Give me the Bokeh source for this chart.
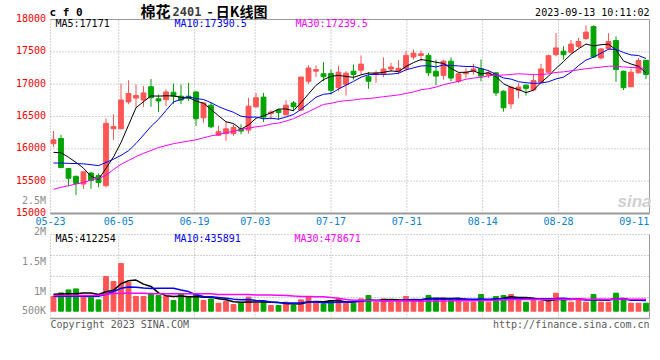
from bokeh.plotting import figure
from bokeh.models import Range1d, Label, LabelSet, ColumnDataSource
from bokeh.core.properties import value
from bokeh.embed import file_html
from bokeh.resources import INLINE

# ---------------- data ----------------
opens = [16080, 16160, 15695, 15575, 15455, 15625, 15585, 15430, 16310, 16310,
         16725, 16785, 16755, 16960, 16775, 16760, 16875, 16815, 16815, 16880,
         16480, 16675, 16210, 16235, 16235, 16310, 16290, 16650, 16800, 16545,
         16600, 16525, 16710, 16600, 17045, 17200, 17160, 17165, 16945, 16995,
         17200, 17215, 17115, 17150, 17160, 17235, 17200, 17240, 17420, 17445,
         17445, 17200, 17135, 17355, 17045, 17160, 17200, 17240, 17140, 17175,
         16890, 16695, 16905, 16985, 16910, 17030, 17185, 17455, 17510, 17495,
         17585, 17705, 17890, 17405, 17550, 17675, 17200, 16960, 17175, 17370]
highs = [16275, 16215, 15700, 15585, 15645, 15645, 15620, 16470, 16535, 17010,
         17060, 16995, 16970, 17080, 16840, 16920, 17010, 16995, 17020, 16890,
         16710, 16710, 16355, 16430, 16380, 16380, 16790, 16865, 16865, 16595,
         16620, 16750, 16740, 17110, 17290, 17290, 17340, 17225, 17285, 17200,
         17305, 17445, 17190, 17210, 17415, 17330, 17370, 17510, 17535, 17520,
         17480, 17380, 17380, 17415, 17175, 17250, 17315, 17380, 17210, 17185,
         16905, 16970, 17020, 16995, 17150, 17315, 17455, 17790, 17585, 17685,
         17715, 17910, 17910, 17560, 17790, 17740, 17210, 17240, 17405, 17370]
lows = [16030, 15700, 15420, 15285, 15380, 15380, 15405, 15405, 16140, 16305,
        16690, 16635, 16650, 16650, 16570, 16660, 16690, 16690, 16740, 16355,
        16405, 16320, 16200, 16125, 16200, 16225, 16235, 16635, 16415, 16455,
        16445, 16525, 16585, 16585, 17005, 17110, 17045, 16840, 16890, 16825,
        17070, 17150, 16930, 17020, 17110, 17190, 17150, 17200, 17380, 17355,
        17125, 16980, 17070, 17045, 17020, 17095, 17150, 17045, 17095, 16815,
        16575, 16620, 16780, 16825, 16890, 17020, 17175, 17430, 17380, 17480,
        17560, 17685, 17405, 17380, 17535, 17035, 16910, 16955, 17165, 17080]
closes = [16140, 15710, 15545, 15465, 15645, 15510, 15480, 16395, 16345, 16755,
          16855, 16825, 16865, 16790, 16740, 16880, 16815, 16755, 16780, 16465,
          16710, 16340, 16265, 16310, 16330, 16275, 16660, 16790, 16490, 16570,
          16560, 16675, 16650, 17110, 17250, 17225, 17115, 16905, 17185, 17170,
          17150, 17310, 17045, 17175, 17235, 17265, 17245, 17445, 17480, 17470,
          17175, 17125, 17355, 17095, 17160, 17185, 17235, 17125, 17175, 16865,
          16635, 16955, 16955, 16935, 17055, 17235, 17440, 17560, 17455, 17620,
          17660, 17805, 17420, 17545, 17660, 17225, 16945, 17185, 17365, 17150]
volumes = [587000, 733000, 853000, 893000, 587000, 560000, 453000, 1388000, 1188000, 1908000,
           1148000, 588000, 588000, 720000, 627000, 587000, 427000, 693000, 560000, 667000,
           427000, 493000, 320000, 387000, 267000, 320000, 560000, 320000, 387000, 227000,
           227000, 360000, 227000, 453000, 587000, 320000, 293000, 427000, 493000, 320000,
           320000, 493000, 627000, 360000, 493000, 360000, 427000, 587000, 467000, 427000,
           627000, 493000, 533000, 453000, 493000, 360000, 360000, 667000, 360000, 587000,
           627000, 667000, 493000, 360000, 427000, 400000, 427000, 720000, 427000, 360000,
           493000, 360000, 667000, 360000, 360000, 720000, 453000, 320000, 320000, 320000]

# moving-average values before enough in-window history exists
ma5_head = [15945, 15940, 15870, 15790]
ma10_head = [15780, 15780, 15775, 15772, 15768, 15755, 15740, 15790, 15840]
ma30_head = [15375, 15405, 15430, 15455, 15480, 15515, 15545, 15590, 15680, 15760,
             15820, 15880, 15930, 15975, 16020, 16050, 16080, 16100, 16120, 16140,
             16170, 16200, 16220, 16250, 16270, 16300, 16320, 16340, 16355]
vma5_head = [680000, 690000, 700000, 700000]
vma10_head = [600000, 600000, 600000, 600000, 600000, 600000, 600000, 680000, 790000]
vma30_head = [627000, 627000, 627000, 627000, 627000, 627000, 640000, 680000, 710000, 720000,
              720000, 720000, 720000, 695000, 695000, 695000, 695000, 695000, 695000, 695000,
              695000, 695000, 670000, 670000, 670000, 670000, 670000, 650000, 650000]

tick_index = [0, 9, 19, 27, 37, 47, 57, 67, 77]
tick_labels = ["05-23", "06-05", "06-19", "07-03", "07-17", "07-31", "08-14", "08-28", "09-11"]
price_ticks = [15000, 15500, 16000, 16500, 17000, 17500, 18000]
vol_tick_labels = ["2M", "1.5M", "1M", "500K"]

title_name = "棉花"
title_contract = "2401"
title_rest = "- 日K线图"
code_text = "c f 0"
time_text = "2023-09-13 10:11:02"
price_legend = ["MA5:17171", "MA10:17390.5", "MA30:17239.5"]
vol_legend = ["MA5:412254", "MA10:435891", "MA30:478671"]
stray_label = "2.5M"
copyright_text = "Copyright 2023 SINA.COM"
url_text = "http://finance.sina.com.cn"
watermark_text = "sina"

# ---------------- derived series ----------------
n = len(closes)
xs = list(range(n))


def moving_average(values, window, head):
    out = list(head)
    for i in range(len(head), len(values)):
        out.append(sum(values[i - window + 1:i + 1]) / window)
    return out


ma5 = moving_average(closes, 5, ma5_head)
ma10 = moving_average(closes, 10, ma10_head)
ma30 = moving_average(closes, 30, ma30_head)
vma5 = moving_average(volumes, 5, vma5_head)
vma10 = moving_average(volumes, 10, vma10_head)
vma30 = moving_average(volumes, 30, vma30_head)

UP = "#ff5555"
DOWN = "#00a400"
colors = [UP if c >= o else DOWN for o, c in zip(opens, closes)]
tops = [max(o, c) for o, c in zip(opens, closes)]
bottoms = [min(o, c) for o, c in zip(opens, closes)]

# ---------------- geometry (canvas pixels) ----------------
W, H = 652, 332
MONO = "DejaVu Sans Mono"
CJK = "Noto Sans CJK SC"
GRID = "#a6a6a6"
BORDER = "#9a9a9a"
MA_COLORS = ["#000000", "#0000ff", "#ff00ff"]

CANDLE0_PX, STEP_PX = 53.0, 7.5
PANEL_LEFT_PX, PANEL_RIGHT_PX = 50.0, 649.0
PRICE_TOP_PX, PRICE_BOT_PX = 19.0, 213.0
VOL_TOP_PX, VOL_BOT_PX, VOL_ZERO_PX, VOL_PER_PX = 234.0, 318.0, 310.7, 40000.0

P_MIN, P_MAX = price_ticks[0], price_ticks[-1]
k = (PRICE_BOT_PX - PRICE_TOP_PX) / (P_MAX - P_MIN)

x_range = Range1d(-CANDLE0_PX / STEP_PX, (W - CANDLE0_PX) / STEP_PX)
X_START = (PANEL_LEFT_PX - CANDLE0_PX) / STEP_PX
X_END = (PANEL_RIGHT_PX - CANDLE0_PX) / STEP_PX
y_range = Range1d(P_MIN - (H - PRICE_BOT_PX) / k, P_MAX + PRICE_TOP_PX / k)
vol_range = Range1d(-(H - VOL_ZERO_PX) * VOL_PER_PX, VOL_ZERO_PX * VOL_PER_PX)
V_TOP = (VOL_ZERO_PX - VOL_TOP_PX) * VOL_PER_PX
V_BOT = (VOL_ZERO_PX - VOL_BOT_PX) * VOL_PER_PX

tick_pos = [X_START + i * (X_END - X_START) / (n - 1) for i in tick_index]

p = figure(width=W, height=H, x_range=x_range, y_range=y_range,
           toolbar_location=None, output_backend="svg",
           min_border=0, outline_line_color=None,
           background_fill_color="white", border_fill_color="white")
p.extra_y_ranges = {"vol": vol_range}
p.xaxis.visible = False
p.yaxis.visible = False
p.grid.visible = False

# ---------------- price panel: grid + border ----------------
inner_p = price_ticks[1:-1]
p.segment(x0=[X_START] * len(inner_p), y0=inner_p, x1=[X_END] * len(inner_p), y1=inner_p,
          line_color=GRID, line_width=1, line_dash="1 2")
vgrid = tick_pos[1:-1]
p.segment(x0=vgrid, y0=[P_MIN] * len(vgrid), x1=vgrid, y1=[P_MAX] * len(vgrid),
          line_color=GRID, line_width=1, line_dash="1 2")
p.segment(x0=[X_START], y0=[P_MIN], x1=[X_START], y1=[P_MAX], line_color=GRID, line_width=1, line_dash="1 2")
p.segment(x0=[X_START], y0=[P_MAX], x1=[X_END], y1=[P_MAX], line_color=BORDER, line_width=1)
p.segment(x0=[X_END], y0=[P_MIN], x1=[X_END], y1=[P_MAX], line_color=BORDER, line_width=1)
p.segment(x0=[X_START], y0=[P_MIN], x1=[X_END], y1=[P_MIN], line_color=BORDER, line_width=2)

# candles
p.segment(x0=xs, y0=lows, x1=xs, y1=highs, line_color=colors, line_width=1)
p.vbar(x=xs, width=0.64, top=tops, bottom=bottoms, fill_color=colors, line_color=colors, line_width=1)
for ma, col in zip((ma5, ma10, ma30), MA_COLORS):
    p.line(xs, ma, line_color=col, line_width=1)

# ---------------- volume panel: grid + border ----------------
vq = [V_BOT + q * (V_TOP - V_BOT) / 4 for q in (1, 2, 3)]
p.segment(x0=[X_START] * 3, y0=vq, x1=[X_END] * 3, y1=vq, y_range_name="vol",
          line_color=GRID, line_width=1, line_dash="1 2")
p.segment(x0=vgrid, y0=[V_BOT] * len(vgrid), x1=vgrid, y1=[V_TOP] * len(vgrid), y_range_name="vol",
          line_color=GRID, line_width=1, line_dash="1 2")
p.segment(x0=[X_START, X_START], y0=[V_BOT, V_TOP], x1=[X_START, X_END], y1=[V_TOP, V_TOP],
          y_range_name="vol", line_color=GRID, line_width=1, line_dash="1 2")
p.segment(x0=[X_END], y0=[V_BOT], x1=[X_END], y1=[V_TOP], y_range_name="vol",
          line_color=BORDER, line_width=1)
p.segment(x0=[X_START], y0=[V_BOT], x1=[X_END], y1=[V_BOT], y_range_name="vol",
          line_color=BORDER, line_width=1.5)

p.vbar(x=xs, width=0.64, top=volumes, bottom=0, y_range_name="vol",
       fill_color=colors, line_color=colors, line_width=1)
for ma, col in zip((vma5, vma10, vma30), MA_COLORS):
    p.line(xs, ma, line_color=col, line_width=1.5, y_range_name="vol")

# ---------------- texts ----------------
def label(x, y_px, text, color="#000000", size="10px", font=MONO, align="left", style="normal"):
    p.add_layout(Label(x=x, y=H - y_px, x_units="screen", y_units="screen", text=text,
                       text_font=font, text_font_size=size, text_color=color,
                       text_font_style=style, text_align=align, text_baseline="middle"))


# price axis labels (red), placed at tick values
p.add_layout(LabelSet(source=ColumnDataSource(dict(y=price_ticks, t=[str(v) for v in price_ticks])),
                      x=PANEL_LEFT_PX - 4.5, y="y", text="t", x_units="screen", y_units="data",
                      y_offset=1.5, text_align="right", text_baseline="middle",
                      text_font=value(MONO), text_font_size=value("10px"), text_color=value("#ff0000")))
# date labels (blue)
p.add_layout(LabelSet(source=ColumnDataSource(dict(x=tick_pos, t=tick_labels)),
                      x="x", y=H - 220.5, text="t", x_units="data", y_units="screen",
                      text_align="center", text_baseline="middle",
                      text_font=value(MONO), text_font_size=value("10px"), text_color=value("#0a82d2")))
# volume axis labels (gray)
p.add_layout(LabelSet(source=ColumnDataSource(dict(y=[H - 231, H - 261, H - 291, H - 310], t=vol_tick_labels)),
                      x=PANEL_LEFT_PX - 4.5, y="y", text="t", x_units="screen", y_units="screen",
                      text_align="right", text_baseline="middle",
                      text_font=value(MONO), text_font_size=value("10px"), text_color=value("#8c8c8c")))

label(49, 11.5, code_text, size="11px", style="bold")
label(140, 10, title_name, size="15px", font=CJK, style="bold")
label(172, 10.5, title_contract, color="#3c3c3c", size="12px", style="bold")
label(207, 10, title_rest, size="14px", font=CJK, style="bold")
label(649, 11.5, time_text, align="right")
for txt, xpos, col in zip(price_legend, (55, 174, 295), MA_COLORS):
    label(xpos, 23.3, txt, color=col)
for txt, xpos, col in zip(vol_legend, (55, 174, 294), MA_COLORS):
    label(xpos, 237.7, txt, color=col)
label(45.5, 200, stray_label, color="#8c8c8c", align="right")
label(651, 201, watermark_text, color="#cfcfcf", size="17px", font="Liberation Sans",
      align="right", style="bold italic")
label(50, 323.5, copyright_text, color="#5a5a5a")
label(649, 324, url_text, color="#5a5a5a", align="right")

open("out.html", "w").write(file_html(p, INLINE))
